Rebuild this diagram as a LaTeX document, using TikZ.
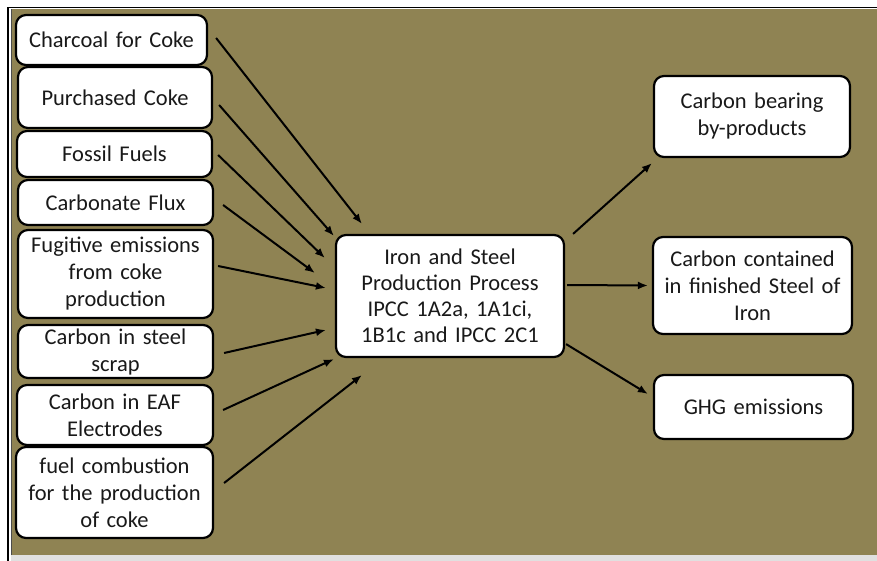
\documentclass[tikz,border=0pt]{standalone}
\usepackage{fontspec}
\setmainfont{Carlito}
\usetikzlibrary{arrows.meta,calc}
\definecolor{olivebg}{RGB}{143,131,83}
\definecolor{txt}{RGB}{25,25,25}
\begin{document}
\begin{tikzpicture}[x=1pt,y=-1pt,
  box/.style={draw=black,line width=2.2pt,fill=white,rounded corners=10pt,
    rectangle,inner sep=0pt,align=center,text=txt,
    font=\fontsize{22.5}{27}\selectfont},
  arr/.style={draw=black,line width=2pt,-{Latex[length=10pt,width=8pt]}}]
\useasboundingbox (0,0) rectangle (877,561);
\fill[white] (0,0) rectangle (877,561);
\fill[olivebg] (11,9) rectangle (877,555);
\fill[black!12] (11,555) rectangle (877,561);
\draw[black,line width=1.6pt] (8,561) -- (8,7.5) -- (877,7.5);
\draw[black!70,line width=1pt] (11.5,555) -- (11.5,9.5);
% left boxes
\node[box,minimum width=191pt,minimum height=50pt,text width=185pt] (c1) at (111.5,40) {Charcoal for Coke};
\node[box,minimum width=194pt,minimum height=61pt,text width=188pt] (c2) at (115,97.5) {Purchased Coke};
\node[box,minimum width=195pt,minimum height=46pt,text width=189pt] (c3) at (114.5,154) {Fossil Fuels};
\node[box,minimum width=195pt,minimum height=45pt,text width=189pt] (c4) at (115.5,202.5) {Carbonate Flux};
\node[box,minimum width=195pt,minimum height=88pt,text width=189pt] (c5) at (115.5,274) {Fugitive emissions\\from coke\\production};
\node[box,minimum width=195pt,minimum height=53pt,text width=189pt] (c6) at (115.5,351.5) {Carbon in steel\\scrap};
\node[box,minimum width=196pt,minimum height=60pt,text width=190pt] (c7) at (115,415) {Carbon in EAF\\Electrodes};
\node[box,minimum width=197pt,minimum height=91pt,text width=191pt] (c8) at (114.5,492.5) {fuel combustion\\for the production\\of coke};
% centre
\node[box,minimum width=228pt,minimum height=122pt,text width=222pt,font=\fontsize{22.5}{26}\selectfont] (p) at (450,296) {Iron and Steel\\Production Process\\IPCC 1A2a, 1A1ci,\\1B1c and IPCC 2C1};
% right boxes
\node[box,minimum width=196pt,minimum height=81pt,text width=190pt] (r1) at (752,116.5) {Carbon bearing\\by-products};
\node[box,minimum width=199pt,minimum height=97pt,text width=193pt] (r2) at (752.5,285.5) {Carbon contained\\in finished Steel of\\Iron};
\node[box,minimum width=199pt,minimum height=64pt,text width=193pt] (r3) at (753.5,407) {GHG emissions};
% input arrows
\draw[arr] ($(c1.east)+(8,-2)$) -- ($(p.north west)+(27,-10)$);
\draw[arr] ($(c2.east)+(6,7.5)$) -- ($(p.north west)+(-1,2)$);
\draw[arr] ($(c3.east)+(5,1)$) -- ($(p.west)+(-10,-38)$);
\draw[arr] ($(c4.east)+(9,2.5)$) -- ($(p.west)+(-20,-23)$);
\draw[arr] ($(c5.east)+(4,-8)$) -- ($(p.west)+(-9,-8)$);
\draw[arr] ($(c6.east)+(10,1.5)$) -- ($(p.west)+(-9,34)$);
\draw[arr] ($(c7.east)+(9,-5)$) -- ($(p.south west)+(-1,1)$);
\draw[arr] ($(c8.east)+(10,-9.5)$) -- ($(p.south west)+(27,17)$);
% output arrows
\draw[arr] ($(p.north east)+(8,0)$) -- ($(r1.south west)+(-1,5)$);
\draw[arr] ($(p.east)+(2,-11)$) -- ($(r2.west)+(-4,0)$);
\draw[arr] ($(p.south east)+(1,-14)$) -- ($(r3.west)+(-5,-13)$);
\end{tikzpicture}
\end{document}
